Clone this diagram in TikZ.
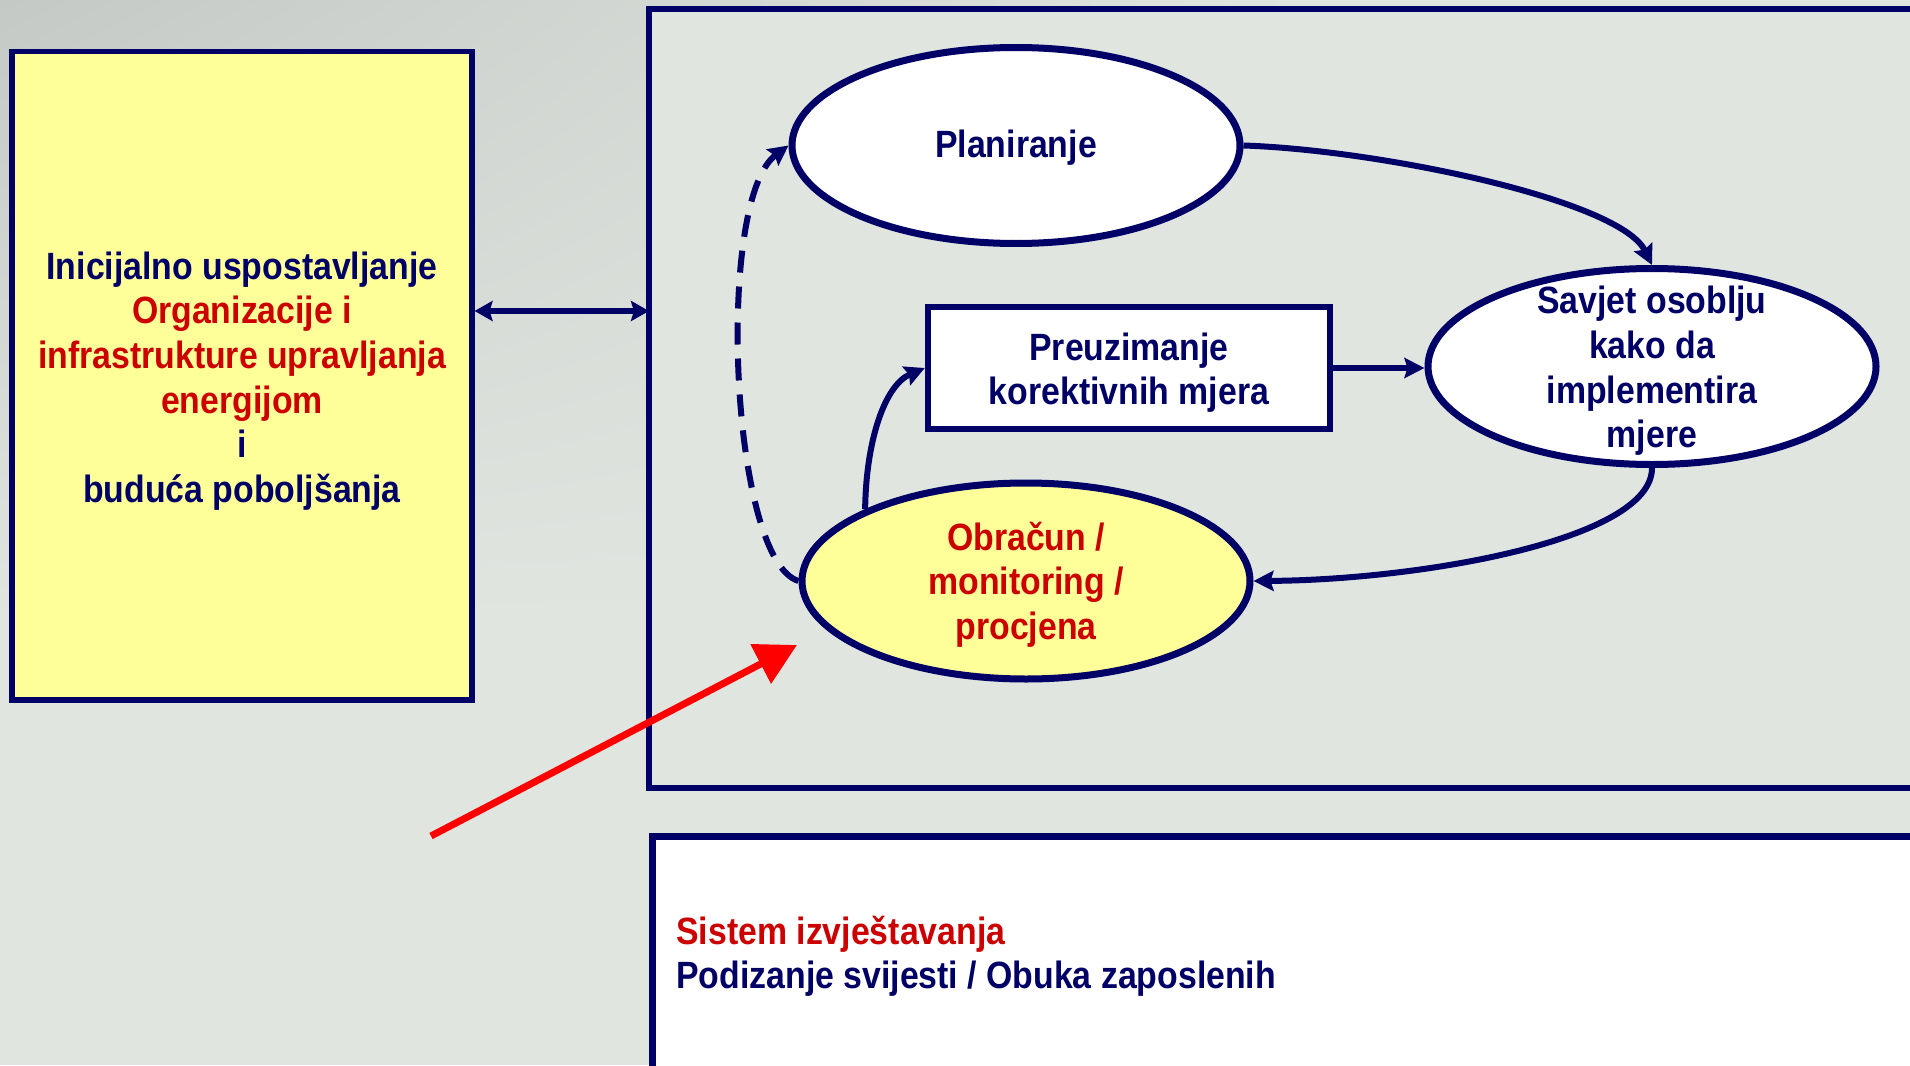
\documentclass[tikz,border=0pt]{standalone}
\usepackage{fontspec}
\setmainfont{Liberation Sans}[FakeStretch=0.89]
\usetikzlibrary{shapes.geometric,arrows.meta,calc,shadings}
\definecolor{navy}{RGB}{0,0,102}
\definecolor{tred}{RGB}{204,0,0}
\definecolor{ylw}{RGB}{255,255,153}
\definecolor{bgc}{RGB}{224,229,224}
\definecolor{bgd}{RGB}{196,201,197}
\begin{document}
\begin{tikzpicture}[x=0.5pt,y=-0.5pt,
  txt/.style={font=\bfseries\fontsize{19}{22.3}\selectfont, align=center, inner sep=0pt, text=navy},
  oval/.style={ellipse, draw=navy, line width=3.5pt, fill=white, minimum width=224pt, minimum height=98pt, inner sep=0pt},
  conn/.style={draw=navy, line width=3pt, -{Stealth[length=10pt,width=10pt,inset=1.5pt]}},
]
\useasboundingbox (0,0) rectangle (1910,1065);
\fill[bgc] (0,0) rectangle (1910,1065);
\shade[upper left=bgd, upper right=bgc, lower left=bgc, lower right=bgc] (0,0) rectangle (1300,620);
% frame
\node[draw=navy, line width=3pt, fill=bgc, anchor=north west, outer sep=0pt, inner sep=0pt,
      minimum width=643pt, minimum height=389.5pt] (frame) at (649,9) {};
% bottom reporting box
\node[draw=navy, line width=3.5pt, fill=white, anchor=north west, outer sep=0pt, inner sep=0pt,
      minimum width=650pt, minimum height=150pt] (rep) at (652,836) {};
\node[txt, anchor=base west, text=tred] (sys) at (676,944) {Sistem izvještavanja};
\node[txt, anchor=base west] (pod) at (676,988) {Podizanje svijesti / Obuka zaposlenih};
% yellow box
\node[draw=navy, line width=2.8pt, fill=ylw, inner sep=0pt,
      minimum width=229.75pt, minimum height=324.25pt] (yel) at (242,375.75) {};
\node[txt] (yeltxt) at (242,381) {Inicijalno uspostavljanje\\
  \textcolor{tred}{Organizacije i}\\
  \textcolor{tred}{infrastrukture upravljanja}\\
  \textcolor{tred}{energijom}\\
  i\\
  budu\'ca poboljšanja};
% double arrow
\coordinate (da) at (560,311);
\draw[navy, line width=2.7pt, {Stealth[length=9pt,width=10pt,inset=1.5pt]}-{Stealth[length=9pt,width=10pt,inset=1.5pt]}]
  (yel.east |- da) -- (frame.west |- da);
% cycle shapes
\node[oval] (plan) at (1016,145.5) {};
\node[txt, yshift=-1.3pt] (plantxt) at (plan) {Planiranje};
\node[oval] (sav) at (1652,366.5) {};
\node[txt, yshift=-2.2pt] (savtxt) at (sav) {Savjet osoblju\\kako da\\implementira\\mjere};
\node[oval, fill=ylw] (obr) at (1026,581) {};
\node[txt, text=tred, yshift=-1.8pt] (obrtxt) at (obr) {Obračun /\\monitoring /\\procjena};
\node[draw=navy, line width=3.2pt, fill=white, inner sep=0pt, minimum width=201pt, minimum height=61pt] (pre) at (1129,368) {};
\node[txt, yshift=-2.4pt] (pretxt) at (pre) {Preuzimanje\\korektivnih mjera};
% connectors
\draw[conn] (plan.east) .. controls (1380,150) and (1620,200) .. (sav.north);
\draw[conn] (pre.east) -- (pre.east -| sav.west);
\draw[conn] (sav.south) .. controls (1652,540) and (1420,580) .. (obr.east);
\draw[conn] (obr.north west) .. controls (866,440) and (885,385) .. (pre.west);
\draw[conn, dash pattern=on 11pt off 7pt] (obr.west) .. controls (730,560) and (715,200) .. (plan.west);
% red arrow
\coordinate (rs) at (431,836);
\coordinate (rt) at (797,645);
\draw[red, line width=3.5pt, -{Triangle[length=20.5pt,width=21.5pt]}] (rs) -- (rt);
\end{tikzpicture}
\end{document}
